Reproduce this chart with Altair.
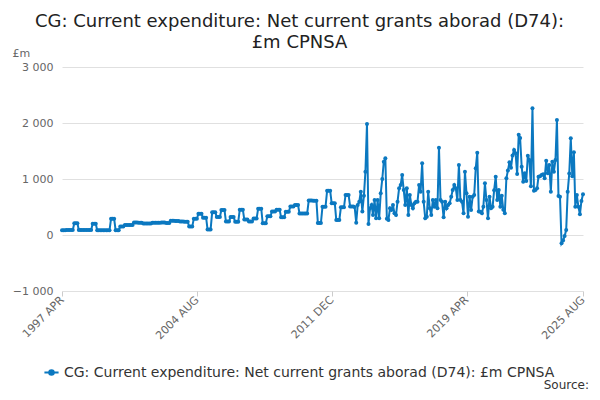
import altair as alt
import pandas as pd

series_name = "CG: Current expenditure: Net current grants aborad (D74): £m CPNSA"

v1997 = [85, 85, 85, 88, 88, 88, 90, 90, 210]
v1998 = [210, 210, 90, 90, 90, 88, 88, 88, 90, 90, 90, 200]
v1999 = [200, 200, 85, 85, 85, 85, 85, 85, 85, 85, 85, 290]
v2000 = [290, 290, 85, 85, 85, 150, 150, 150, 178, 178, 178, 178]
v2001 = [178, 178, 225, 225, 225, 220, 220, 220, 205, 205, 205, 205]
v2002 = [205, 205, 220, 220, 220, 218, 218, 218, 222, 222, 222, 215]
v2003 = [215, 215, 255, 255, 255, 252, 252, 252, 240, 240, 240, 238]
v2004 = [238, 238, 150, 150, 150, 290, 290, 290, 380, 380, 380, 310]
v2005 = [310, 310, 100, 100, 100, 405, 405, 405, 320, 320, 320, 446]
v2006 = [446, 446, 240, 240, 240, 320, 320, 320, 238, 238, 238, 450]
v2007 = [450, 450, 275, 275, 275, 240, 240, 240, 295, 295, 295, 470]
v2008 = [470, 470, 208, 208, 208, 335, 335, 335, 420, 420, 420, 450]
v2009 = [450, 450, 315, 315, 315, 415, 415, 415, 510, 510, 510, 536]
v2010 = [536, 536, 385, 385, 385, 385, 385, 385, 615, 615, 615, 610]
v2011 = [610, 610, 215, 215, 215, 506, 506, 506, 790, 790, 790, 565]
v2012 = [565, 565, 270, 270, 270, 495, 495, 495, 715, 715, 715, 510]
v2013 = [510, 510, 500, 220, 536, 595, 774, 420, 700, 1131, 1980, 196]
v2014 = [476, 536, 357, 625, 297, 625, 297, 744, 1000, 1310, 1370, 290]
v2015 = [270, 476, 446, 536, 387, 357, 595, 833, 893, 1071, 804, 536]
v2016 = [833, 357, 714, 536, 476, 565, 595, 595, 893, 774, 1280, 595]
v2017 = [298, 327, 774, 476, 357, 625, 506, 625, 476, 1560, 625, 595]
v2018 = [315, 595, 476, 536, 565, 684, 804, 893, 833, 625, 1250, 625]
v2019 = [595, 387, 1131, 744, 327, 684, 446, 684, 714, 1190, 1470, 420]
v2020 = [417, 387, 506, 923, 625, 298, 684, 476, 506, 800, 1042, 625]
v2021 = [804, 506, 700, 450, 387, 1012, 1150, 1300, 1200, 1420, 1520, 1458]
v2022 = [1089, 1790, 1730, 1220, 952, 1101, 964, 1416, 1339, 870, 2265, 790]
v2023 = [804, 833, 1042, 1050, 1071, 1084, 1012, 1327, 1101, 1250, 774, 1310]
v2024 = [1131, 1339, 2054, 696, 685, -149, -100, -20, 89, 774, 1100, 1726]
v2025 = [1050, 1476, 506, 714, 506, 369, 607, 726]

values = (v1997 + v1998 + v1999 + v2000 + v2001 + v2002 + v2003 + v2004 + v2005
          + v2006 + v2007 + v2008 + v2009 + v2010 + v2011 + v2012 + v2013 + v2014
          + v2015 + v2016 + v2017 + v2018 + v2019 + v2020 + v2021 + v2022 + v2023
          + v2024 + v2025)

dates = pd.date_range("1997-04-01", periods=len(values), freq="MS")
df = pd.DataFrame({"date": dates, "value": values, "series": series_name})

tick_dates = [
    alt.DateTime(year=1997, month=4, date=1),
    alt.DateTime(year=2004, month=8, date=1),
    alt.DateTime(year=2011, month=12, date=1),
    alt.DateTime(year=2019, month=4, date=1),
    alt.DateTime(year=2025, month=8, date=1),
]
y_ticks = [-1000, 0, 1000, 2000, 3000]

blue = "#0b78c0"
font = "DejaVu Sans"

line = alt.Chart(df).mark_line(
    point=alt.OverlayMarkDef(filled=True, size=16, opacity=1),
    strokeWidth=2,
).encode(
    x=alt.X(
        "date:T",
        scale=alt.Scale(domain=[tick_dates[0], tick_dates[-1]], nice=False),
        axis=alt.Axis(
            values=tick_dates,
            labelExpr="upper(timeFormat(datum.value, '%Y %b'))",
            labelAngle=315,
            labelAlign="right",
            labelBaseline="middle",
            labelFontSize=11,
            labelColor="#666666",
            labelFont=font,
            labelPadding=2,
            ticks=True,
            tickSize=5,
            tickColor="#cccccc",
            domain=False,
            grid=False,
            title=None,
            labelOverlap=False,
        ),
    ),
    y=alt.Y(
        "value:Q",
        scale=alt.Scale(domain=[-1000, 3000], nice=False),
        axis=alt.Axis(
            values=y_ticks,
            labelExpr="replace(format(datum.value, ','), ',', ' ')",
            labelFontSize=11,
            labelColor="#666666",
            labelFont=font,
            labelPadding=9,
            ticks=False,
            domain=False,
            grid=True,
            gridColor="#e0e0e0",
            title="£m",
            titleAngle=0,
            titleAlign="left",
            titleBaseline="alphabetic",
            titleX=-50,
            titleY=-11,
            titleFontSize=11,
            titleFontWeight="normal",
            titleColor="#666666",
            titleFont=font,
        ),
    ),
    color=alt.Color(
        "series:N",
        scale=alt.Scale(range=[blue]),
        legend=alt.Legend(
            title=None,
            orient="none",
            legendX=-19,
            legendY=297,
            labelFontSize=14,
            labelColor="#333333",
            labelFont=font,
            labelLimit=800,
            symbolType="M-1,0L1,0M-0.33,0a0.33,0.33 0 1,0 0.66,0a0.33,0.33 0 1,0 -0.66,0",
            symbolSize=200,
            symbolStrokeWidth=2,
            symbolFillColor=blue,
            symbolStrokeColor=blue,
            labelOffset=4,
        ),
    ),
)

source = alt.Chart(pd.DataFrame({"t": ["Source:"]})).mark_text(
    align="right", baseline="alphabetic", fontSize=12, font=font, color="#333333"
).encode(text="t:N", x=alt.value(527), y=alt.value(322))

chart = alt.layer(line, source).properties(
    width=521,
    height=224,
    autosize=alt.AutoSizeParams(type="none"),
    padding={"left": 54, "top": 59, "right": 9, "bottom": 101},
    title=alt.TitleParams(
        text=["CG: Current expenditure: Net current grants aborad (D74):", "£m CPNSA"],
        anchor="middle",
        frame="group",
        fontSize=18,
        lineHeight=21,
        font=font,
        fontWeight="normal",
        color="#222222",
        offset=-5,
        dx=-23,
    ),
).configure_view(stroke=None)

chart.save("out.html", embed_options={"renderer": "svg", "actions": False})
